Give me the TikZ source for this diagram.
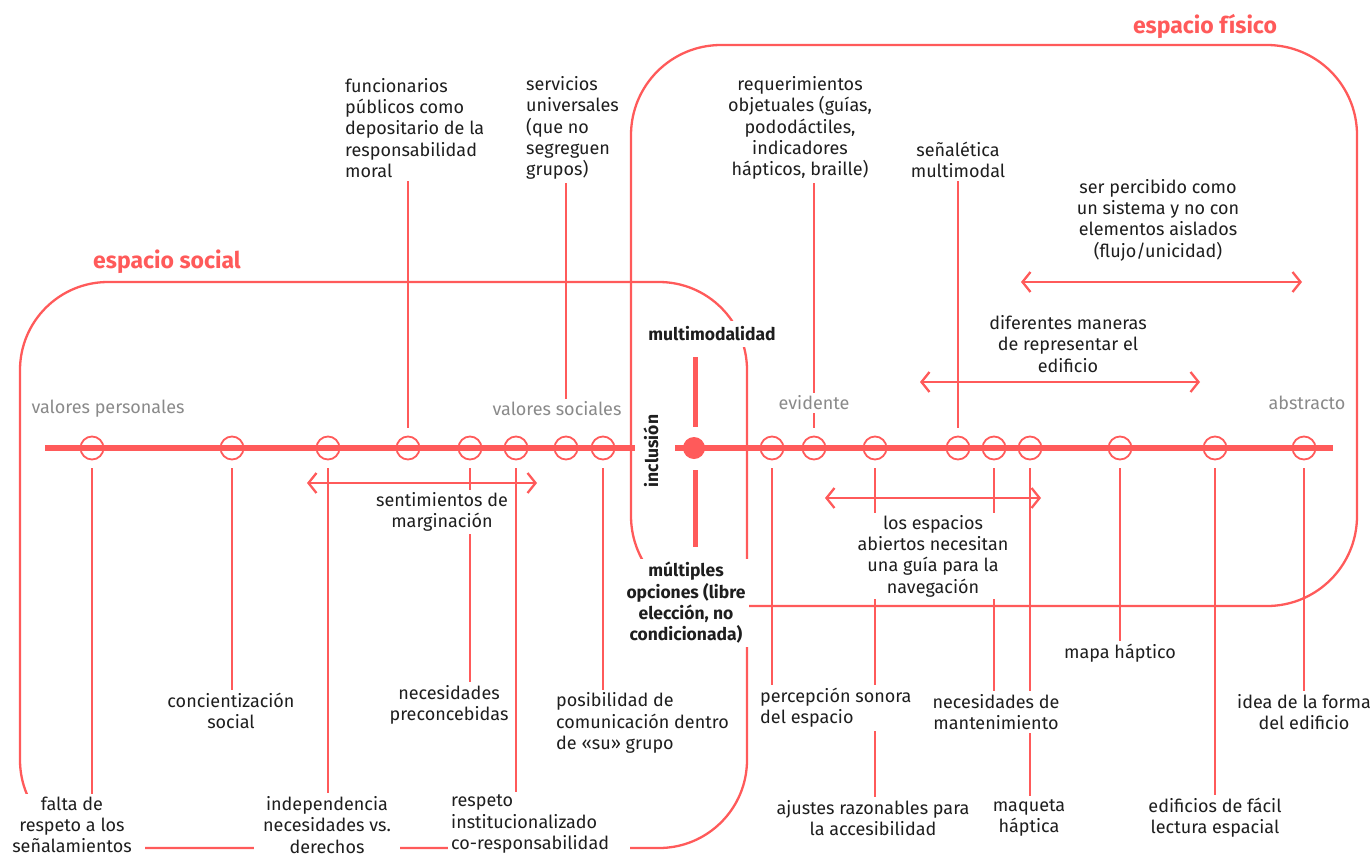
\documentclass[tikz,border=0pt]{standalone}
\usepackage{fontspec}
\setmainfont{Fira Sans}
\usetikzlibrary{arrows.meta,backgrounds}
\definecolor{accent}{HTML}{FF5A5A}
\definecolor{txt}{HTML}{1E1E1E}
\definecolor{soft}{HTML}{8A8A8A}
\tikzset{
  lab/.style={font=\fontsize{18}{21.3}\selectfont, text=txt, align=center, fill=white, inner xsep=3pt, inner ysep=3pt},
  labl/.style={lab, align=left},
  boldlab/.style={lab, font=\bfseries\fontsize{17.5}{21.3}\selectfont},
  pole/.style={font=\fontsize{18}{21}\selectfont, text=soft, fill=white, inner sep=3pt},
  ttl/.style={font=\bfseries\fontsize{23}{26}\selectfont, text=accent, inner sep=2pt},
  circ/.style={circle, draw=accent, line width=1.8pt, minimum size=23pt, inner sep=0pt},
  conn/.style={draw=accent, line width=2.3pt},
  axisline/.style={draw=accent, line width=6pt},
  frame/.style={draw=accent, line width=2.3pt, rounded corners=88pt},
  biarrow/.style={conn, {Straight Barb[length=8pt,width=20pt]}-{Straight Barb[length=8pt,width=20pt]}},
  gapb/.style={shorten <=8pt},
  gape/.style={shorten >=8pt}
}
\begin{document}
\begin{tikzpicture}[x=1pt,y=-1pt]
\useasboundingbox (0,0) rectangle (1370,857);

% circles on the axis
\foreach \n/\xx in {A1/92,A2/232,A3/328,A4/408,A5/470,A6/516,A7/566,A8/603,
                    B1/772,B2/814,B3/875,B4/958,B5/994,B6/1030,B7/1120,B8/1215,B9/1304}
  \node[circ] (c\n) at (\xx,448) {};
\node[circle, fill=accent, minimum size=22pt, inner sep=0pt] (core) at (694,448) {};

% titles
\node[ttl] (tsoc) at (167,262) {espacio social};
\node[ttl] (tfis) at (1205,26) {espacio físico};

% top labels
\node[labl, anchor=west] (fun) at (342,128) {funcionarios\\públicos como\\depositario de la\\responsabilidad\\moral};
\node[labl, anchor=west] (serv) at (523,128) {servicios\\universales\\(que no\\segreguen\\grupos)};
\node[lab] (req) at (800,128) {requerimientos\\objetuales (guías,\\pododáctiles,\\indicadores\\hápticos, braille)};
\node[lab] (sen) at (958,160) {señalética\\multimodal};
\node[lab] (ser) at (1158,220) {ser percibido como\\un sistema y no con\\elementos aislados\\(flujo/unicidad)};
\node[lab] (dif) at (1068,344) {diferentes maneras\\de representar el\\edificio};
\node[boldlab, inner sep=6pt] (mm) at (712,334) {multimodalidad};

% poles
\node[pole] (vper) at (108,409) {valores personales};
\node[pole] (vsoc) at (557,409) {valores sociales};
\node[pole] (evid) at (814,403) {evidente};
\node[pole] (abst) at (1307,403) {abstracto};
\node[boldlab, rotate=90, fill=none] (incl) at (651,451) {inclusión};

% middle labels
\node[lab, inner xsep=2pt, inner ysep=2pt] (sent) at (442,512) {sentimientos de\\marginación};
\node[lab, inner ysep=2pt] (espab) at (933,556) {los espacios\\abiertos necesitan\\una guía para la\\navegación};
\node[boldlab, minimum width=110pt] (mult) at (686,603) {múltiples\\opciones (libre\\elección, no\\condicionada)};
\node[lab] (mapa) at (1120,653) {mapa háptico};

% lower labels
\node[lab] (conc) at (231,711) {concientización\\social};
\node[lab] (nec) at (449,705) {necesidades\\preconcebidas};
\node[labl, anchor=west] (pos) at (553,723) {posibilidad de\\comunicación dentro\\de «su» grupo};
\node[labl, anchor=west] (perc) at (757,708) {percepción sonora\\del espacio};
\node[lab] (mant) at (996,712) {necesidades de\\mantenimiento};
\node[lab] (idea) at (1304,712) {idea de la forma\\del edificio};

% bottom labels
\node[lab, minimum width=146pt] (falta) at (72,825) {falta de\\respeto a los\\señalamientos};
\node[lab, minimum width=146pt] (indep) at (327,825) {independencia\\necesidades vs.\\derechos};
\node[labl, anchor=west, text width=176pt] (resp) at (448,824) {respeto\\institucionalizado\\co-responsabilidad};
\node[lab] (ajus) at (873,818) {ajustes razonables para\\la accesibilidad};
\node[lab] (maq) at (1029,818) {maqueta\\háptica};
\node[lab] (edif) at (1215,818) {edificios de fácil\\lectura espacial};

% arrow end points
\coordinate (sa1) at (307,483); \coordinate (sa2) at (537,483);
\coordinate (ea1) at (825,498); \coordinate (ea2) at (1041,498);
\coordinate (da1) at (920,382); \coordinate (da2) at (1200,382);
\coordinate (ra1) at (1021,282); \coordinate (ra2) at (1302,282);
\coordinate (axL1) at (45,448); \coordinate (axL2) at (635,448);
\coordinate (axR1) at (675,448); \coordinate (axR2) at (1333,448);
\coordinate (bar1) at (695,357); \coordinate (bar2) at (695,427);
\coordinate (bar3) at (695,470); \coordinate (bar4) at (695,547);

\begin{scope}[on background layer]
  % frames
  \draw[frame] (20,282) rectangle (747,848);
  \draw[frame, rounded corners=90pt] (631,45) rectangle (1357,606);
  % axis
  \draw[axisline] (axL1) -- (axL2);
  \draw[axisline] (axR1) -- (axR2);
  \draw[draw=accent, line width=5pt] (bar1) -- (bar2);
  \draw[draw=accent, line width=5pt] (bar3) -- (bar4);
  % connectors
  \draw[conn, gapb] (cA1.south) -- (cA1.south |- falta.north);
  \draw[conn, gapb] (cA2.south) -- (cA2.south |- conc.north);
  \draw[conn, gapb] (cA3.south) -- (cA3.south |- indep.north);
  \draw[conn, gape] (fun.south -| cA4) -- (cA4.north);
  \draw[conn, gapb] (cA5.south) -- (cA5.south |- nec.north);
  \draw[conn, gapb] (cA6.south) -- (cA6.south |- resp.north);
  \draw[conn] (serv.south -| cA7) -- (vsoc.north -| cA7);
  \draw[conn, gapb] (cA8.south) -- (cA8.south |- pos.north);
  \draw[conn, gapb] (cB1.south) -- (cB1.south |- perc.north);
  \draw[conn] (req.south -| cB2) -- (evid.north -| cB2);
  \draw[conn, gape] (evid.south -| cB2) -- (cB2.north);
  \draw[conn, gapb] (cB3.south) -- (cB3.south |- ajus.north);
  \draw[conn, gape] (sen.south -| cB4) -- (cB4.north);
  \draw[conn, gapb] (cB5.south) -- (cB5.south |- mant.north);
  \draw[conn, gapb] (cB6.south) -- (cB6.south |- maq.north);
  \draw[conn, gapb] (cB7.south) -- (cB7.south |- mapa.north);
  \draw[conn, gapb] (cB8.south) -- (cB8.south |- edif.north);
  \draw[conn, gapb] (cB9.south) -- (cB9.south |- idea.north);
  % range arrows
  \draw[biarrow] (sa1) -- (sa2);
  \draw[biarrow] (ea1) -- (ea2);
  \draw[biarrow] (da1) -- (da2);
  \draw[biarrow] (ra1) -- (ra2);
\end{scope}
\end{tikzpicture}
\end{document}
